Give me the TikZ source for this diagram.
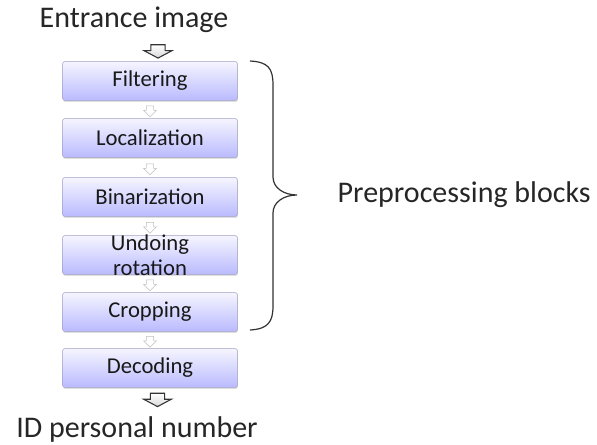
\documentclass[tikz,border=0pt]{standalone}
\usepackage{fontspec}
\setmainfont{Carlito}
\usetikzlibrary{positioning, shapes.arrows, shadows, calc}

\tikzset{
  blk/.style={rectangle, rounded corners=1.5pt, draw=blue!25!gray!60, top color=blue!4, bottom color=blue!27,
    minimum width=131pt, minimum height=29pt, inner sep=0pt, font=\fontsize{17}{19}\selectfont, text=black!90,
    drop shadow={opacity=0.25, shadow xshift=0.4pt, shadow yshift=-1.2pt}},
  bigarr/.style={single arrow, shape border rotate=270, draw=black!80, top color=white, bottom color=black!15, line width=0.8pt,
    minimum height=10pt, inner xsep=5pt, inner ysep=0pt, single arrow head extend=5pt, single arrow tip angle=124},
  smallarr/.style={single arrow, shape border rotate=270, draw=black!25, fill=white,
    minimum height=8pt, inner xsep=2.5pt, inner ysep=0pt, single arrow head extend=2pt},
  bigtxt/.style={font=\fontsize{22.5}{26}\selectfont, text=black!85}
}

\begin{document}
\begin{tikzpicture}[x=0.75pt, y=-0.75pt]
\useasboundingbox (0,0) rectangle (597,445);

% input
\draw (134,20) node[bigtxt] (inp) {Entrance image};

% blocks
\draw (150,81) node[blk] (filt) {Filtering};
\draw (150,138) node[blk] (loc) {Localization};
\draw (150,197) node[blk] (bin) {Binarization};
\draw (150,255) node[blk, label={[font=\fontsize{17}{19}\selectfont, text=black!90, align=center]center:Undoing\\rotation}] (undo) {};
\draw (150,312) node[blk] (crop) {Cropping};
\draw (150,368) node[blk] (dec) {Decoding};

% output
\draw (137,430) node[bigtxt] (out) {ID personal number};

% arrows
\node[bigarr] (a0) at ($(inp.south)!0.5!(filt.north)+(16,0)$) {};
\node[smallarr] (a1) at ($(filt.south)!0.5!(loc.north)$) {};
\node[smallarr] (a2) at ($(loc.south)!0.5!(bin.north)$) {};
\node[smallarr] (a3) at ($(bin.south)!0.5!(undo.north)$) {};
\node[smallarr] (a4) at ($(undo.south)!0.5!(crop.north)$) {};
\node[smallarr] (a5) at ($(crop.south)!0.5!(dec.north)$) {};
\node[bigarr] (a6) at ($(dec.south)!0.5!(out.north)+(14,-2)$) {};

% brace
\draw[line width=0.9pt, black!80] (250,61) .. controls (268,62) and (273,68) .. (273,85) -- (273,177)
  .. controls (273,188) and (284,195) .. (297,195) .. controls (284,195) and (273,202) .. (273,213)
  -- (273,306) .. controls (273,322) and (268,329) .. (250,330);
\draw (333,195) node[bigtxt, anchor=west] (pre) {Preprocessing blocks};
\end{tikzpicture}
\end{document}
